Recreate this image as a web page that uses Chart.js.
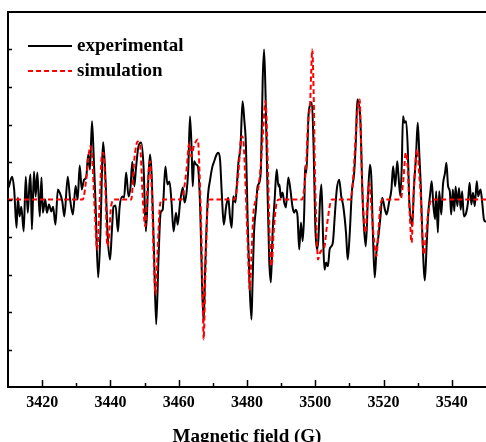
<!DOCTYPE html>
<html>
<head>
<meta charset="utf-8">
<script src="https://cdn.jsdelivr.net/npm/chart.js@4/dist/chart.umd.min.js"></script>
<style>
  html, body { margin: 0; padding: 0; background: #fff; }
  canvas { display: block; }
</style>
</head>
<body>
<canvas id="eprChart" width="486" height="442"></canvas>
<script>
// magnetic field (G) and signal intensity (a.u.)
const expField = [3410.2,3411.2,3411.8,3412.5,3412.9,3413.4,3413.9,3414.6,3415.2,3415.8,3416.3,3416.6,3417.0,3417.6,3418.1,3418.6,3419.3,3419.8,3420.2,3420.9,3421.4,3422.0,3422.7,3423.2,3423.9,3424.6,3425.1,3425.9,3426.5,3427.5,3428.2,3429.0,3429.8,3430.4,3431.0,3431.6,3432.3,3432.9,3433.5,3434.0,3434.6,3435.1,3435.6,3436.4,3437.0,3437.9,3438.6,3439.2,3439.9,3440.4,3440.9,3441.5,3442.2,3442.7,3443.5,3444.0,3444.6,3445.3,3445.9,3446.4,3447.0,3447.5,3448.2,3449.0,3449.7,3450.4,3451.1,3451.6,3452.1,3452.8,3453.4,3454.1,3454.7,3455.3,3456.1,3456.7,3457.3,3457.9,3458.5,3459.2,3459.7,3460.4,3461.2,3461.7,3462.3,3462.8,3463.3,3463.8,3464.1,3464.5,3465.1,3465.6,3466.3,3466.8,3467.3,3467.8,3468.5,3469.2,3469.8,3470.4,3471.1,3471.6,3472.1,3472.7,3473.2,3473.9,3474.5,3475.0,3475.5,3476.0,3476.6,3477.0,3477.5,3478.1,3478.7,3479.2,3479.7,3480.2,3480.7,3481.3,3481.6,3482.1,3482.6,3483.1,3483.6,3484.1,3484.6,3485.0,3485.4,3485.9,3486.5,3487.0,3487.5,3488.1,3488.7,3489.2,3489.5,3489.9,3490.4,3490.9,3491.4,3492.1,3492.7,3493.3,3493.8,3494.3,3494.8,3495.3,3495.8,3496.3,3496.8,3497.0,3497.4,3498.0,3498.5,3499.0,3499.5,3500.0,3500.5,3500.9,3501.4,3501.8,3502.3,3502.7,3503.2,3503.7,3504.2,3504.7,3505.2,3505.7,3506.3,3507.0,3507.6,3508.2,3509.0,3509.5,3510.1,3510.7,3511.4,3511.9,3512.3,3512.6,3513.2,3513.8,3514.3,3514.8,3515.4,3516.0,3516.4,3516.9,3517.4,3517.9,3518.5,3519.1,3519.6,3520.4,3520.9,3521.6,3522.3,3522.8,3523.4,3524.0,3524.3,3524.9,3525.3,3525.7,3526.1,3526.6,3527.1,3527.5,3528.0,3528.4,3528.9,3529.5,3530.0,3530.5,3530.9,3531.3,3532.1,3532.6,3533.1,3533.7,3534.1,3534.6,3535.1,3535.4,3535.9,3536.3,3536.9,3537.4,3538.0,3538.4,3538.9,3539.4,3539.8,3540.3,3540.7,3541.1,3541.6,3542.1,3542.6,3543.0,3543.5,3544.2,3544.7,3545.2,3545.7,3546.2,3546.7,3547.3,3547.7,3548.4,3548.9,3549.4,3550.0];
const expSignal = [0.32,0.61,0.27,-0.75,0.05,-0.45,-0.19,-0.85,0.61,-0.35,0.45,0.67,-0.80,0.75,0.08,0.72,-0.45,0.59,-0.35,0,-0.35,-0.13,-0.32,-0.19,-0.67,0.27,0.19,-0.05,-0.45,0.61,0,-0.40,0.37,0,0.91,0.27,0.53,0.59,1.20,0.80,2.09,1.15,0,-2.08,-1.07,1.53,0.45,-0.99,-1.60,-0.88,-0.19,-0.16,-0.85,-0.19,0.08,0.05,0.72,0.08,0.35,1.01,0.35,0.85,1.41,1.52,0.88,-0.85,0.53,1.20,0.61,-1.52,-3.33,-1.52,-0.35,-0.27,0.88,0.40,0.48,-0.08,-0.85,-0.35,-0.67,-0.08,0.32,-0.08,0.19,0.80,2.22,1.29,0.35,1.02,0.93,0.89,-0.27,-2.13,-3.28,-1.68,0,0.53,0.85,1.02,1.20,1.25,1.07,0,-0.67,-0.18,0.05,-0.45,-0.75,0.09,-0.08,0.35,0.99,1.42,2.62,2.13,1.42,-0.61,-2.13,-3.20,-2.31,-0.80,-0.27,0.35,0.45,0.89,3.20,4.00,2.93,0.72,-1.60,-2.21,-0.88,0,0.80,0.35,0.40,0.05,0.19,-0.08,-0.21,0.59,0.27,-0.18,-0.35,-0.27,-0.45,-1.33,-0.61,-1.11,-0.18,0.89,0.72,2.22,2.53,2.59,1.42,-0.71,-1.33,-1.07,0,0.40,-1.07,-1.87,-1.68,-1.78,-1.33,-1.25,-1.11,-0.45,0.27,0.53,0.09,-0.18,-0.89,-1.60,-0.88,0.19,0.72,1.60,2.67,2.59,2.13,0.19,-0.80,-1.25,0,0.93,0.62,-0.98,-2.08,-1.41,-0.98,-0.45,0.05,-0.27,-0.40,-0.08,0.27,0.89,0.35,1.02,0.72,0.09,0.80,2.22,2.05,2.09,1.33,0,-0.53,-0.71,0.35,1.15,2.05,1.15,0.35,-0.80,-2.16,-1.25,-0.35,0.19,0.49,-0.18,-0.53,0.22,-0.88,0.22,-0.40,0.40,0.71,0.98,0.35,0.22,-0.40,0.27,-0.31,0.35,-0.18,0.31,-0.27,0.22,-0.45,-0.35,-0.09,0.45,-0.13,0.18,-0.18,0.49,0.09,0.27,-0.09,-0.53,-0.60];

const simField = [3410.0,3431.9,3432.9,3433.5,3434.1,3434.6,3435.4,3436.1,3436.8,3437.5,3437.9,3438.5,3439.1,3439.5,3440.2,3441.2,3446.1,3447.0,3448.0,3448.7,3449.5,3450.2,3450.8,3451.6,3452.1,3452.7,3453.2,3453.8,3454.4,3455.0,3460.7,3461.2,3462.3,3463.1,3463.7,3464.3,3465.6,3466.1,3466.6,3467.0,3467.3,3467.8,3468.5,3469.2,3476.3,3477.5,3478.1,3478.5,3479.0,3479.5,3480.2,3480.8,3481.3,3481.9,3482.6,3483.4,3484.1,3484.8,3485.4,3485.7,3486.2,3486.8,3487.2,3487.8,3488.5,3489.4,3496.1,3497.3,3497.9,3498.5,3498.8,3499.1,3499.5,3499.9,3500.4,3500.8,3501.4,3502.1,3502.7,3503.4,3504.4,3505.0,3510.4,3511.2,3511.9,3512.5,3513.0,3513.3,3513.8,3514.3,3514.7,3515.3,3515.8,3516.4,3517.2,3517.9,3518.5,3519.2,3519.9,3525.0,3525.8,3526.5,3527.1,3527.7,3528.2,3528.7,3529.4,3529.9,3530.4,3530.9,3531.3,3531.8,3532.3,3533.1,3534.1,3550.0];
const simSignal = [0,0,0.53,1.07,1.42,1.20,-0.27,-1.33,-0.18,1.20,1.25,0.35,-1.25,-1.07,-0.18,0,0,1.07,1.55,1.42,0,-0.71,0.27,1.02,0.27,-1.60,-2.53,-1.41,-0.27,0,0,0.09,0.80,1.51,1.15,1.38,1.60,0.72,-0.80,-2.40,-3.73,-2.05,-0.18,0,0,0.72,1.51,1.69,1.51,0.53,-1.15,-2.40,-1.51,-0.35,0,0.35,0.98,1.95,2.62,2.22,0.53,-1.42,-1.78,-0.89,-0.18,0,0,0.89,2.05,2.58,3.38,4.00,2.93,0.72,-0.89,-1.60,-1.42,-1.33,-1.25,-0.71,-0.09,0,0,0.71,1.78,2.49,2.67,1.87,0.27,-0.62,-0.89,0,0.45,-0.18,-1.07,-1.51,-0.80,-0.09,0,0,0.53,1.25,0.80,-0.45,-1.15,-0.09,1.07,1.33,0.71,0.09,-0.89,-1.47,-1.07,-0.35,0,0];

const fieldTicks = [3420, 3440, 3460, 3480, 3500, 3520, 3540];
const fieldMinorTicks = [3430, 3450, 3470, 3490, 3510, 3530];
const seriesLabels = ['experimental', 'simulation'];

const serif = "'Liberation Serif', 'Times New Roman', serif";

function toPoints(xs, ys) {
    return xs.map((x, i) => ({ x: x, y: ys[i] }));
}

// inward ticks, top frame line and the legend box in the upper left
const framePlugin = {
    id: 'frame',
    afterDraw(chart) {
        const ctx = chart.ctx;
        const area = chart.chartArea;
        const xs = chart.scales.x;
        const ys = chart.scales.y;
        ctx.save();
        ctx.strokeStyle = '#000';
        ctx.lineWidth = 2;
        ctx.beginPath();
        ctx.moveTo(area.left - 1, area.top);
        ctx.lineTo(area.right, area.top);
        ctx.stroke();

        ctx.lineWidth = 1.5;
        ctx.beginPath();
        fieldTicks.forEach(v => {
            const px = Math.round(xs.getPixelForValue(v)) + 0.5;
            ctx.moveTo(px, area.bottom);
            ctx.lineTo(px, area.bottom - 7);
        });
        fieldMinorTicks.forEach(v => {
            const px = Math.round(xs.getPixelForValue(v)) + 0.5;
            ctx.moveTo(px, area.bottom);
            ctx.lineTo(px, area.bottom - 4);
        });
        ys.ticks.forEach(t => {
            if (t.value <= ys.min || t.value >= ys.max) return;
            const py = Math.round(ys.getPixelForValue(t.value)) + 0.5;
            ctx.moveTo(area.left, py);
            ctx.lineTo(area.left + 4, py);
        });
        ctx.stroke();

        // legend
        ctx.font = 'bold 19px ' + serif;
        ctx.textBaseline = 'middle';
        ctx.fillStyle = '#000';
        chart.data.datasets.forEach((ds, i) => {
            const y = 46 + i * 25;
            ctx.strokeStyle = ds.borderColor;
            ctx.lineWidth = 2;
            ctx.setLineDash(ds.borderDash || []);
            ctx.beginPath();
            ctx.moveTo(28, y);
            ctx.lineTo(72, y);
            ctx.stroke();
            ctx.setLineDash([]);
            ctx.fillText(ds.label, 77, y);
        });
        ctx.restore();
    }
};

new Chart(document.getElementById('eprChart'), {
    type: 'line',
    data: {
        datasets: [{
            label: seriesLabels[0],
            data: toPoints(expField, expSignal),
            borderColor: '#000000',
            borderWidth: 2,
            pointRadius: 0,
            cubicInterpolationMode: 'monotone',
            order: 2
        }, {
            label: seriesLabels[1],
            data: toPoints(simField, simSignal),
            borderColor: '#ff0000',
            borderWidth: 2,
            borderDash: [5, 3],
            pointRadius: 0,
            cubicInterpolationMode: 'monotone',
            order: 1
        }]
    },
    options: {
        responsive: false,
        animation: false,
        layout: {
            padding: { left: 8, top: 12, right: 0, bottom: -6 }
        },
        plugins: {
            legend: { display: false },
            tooltip: { enabled: false }
        },
        scales: {
            x: {
                type: 'linear',
                min: 3410,
                max: 3550,
                afterBuildTicks: scale => {
                    scale.ticks = fieldTicks.map(v => ({ value: v }));
                },
                grid: { display: false, drawTicks: false },
                border: { display: true, color: '#000', width: 2 },
                ticks: {
                    color: '#000',
                    padding: 6,
                    maxRotation: 0,
                    callback: v => String(v),
                    font: { family: serif, size: 16, weight: 'bold' }
                },
                title: {
                    display: true,
                    text: 'Magnetic field (G)',
                    color: '#000',
                    padding: { top: 7, bottom: 0 },
                    font: { family: serif, size: 19, weight: 'bold' }
                }
            },
            y: {
                min: -5,
                max: 5,
                ticks: { display: false, stepSize: 1 },
                grid: { display: false, drawTicks: false },
                border: { display: true, color: '#000', width: 2 }
            }
        }
    },
    plugins: [framePlugin]
});
</script>
</body>
</html>
